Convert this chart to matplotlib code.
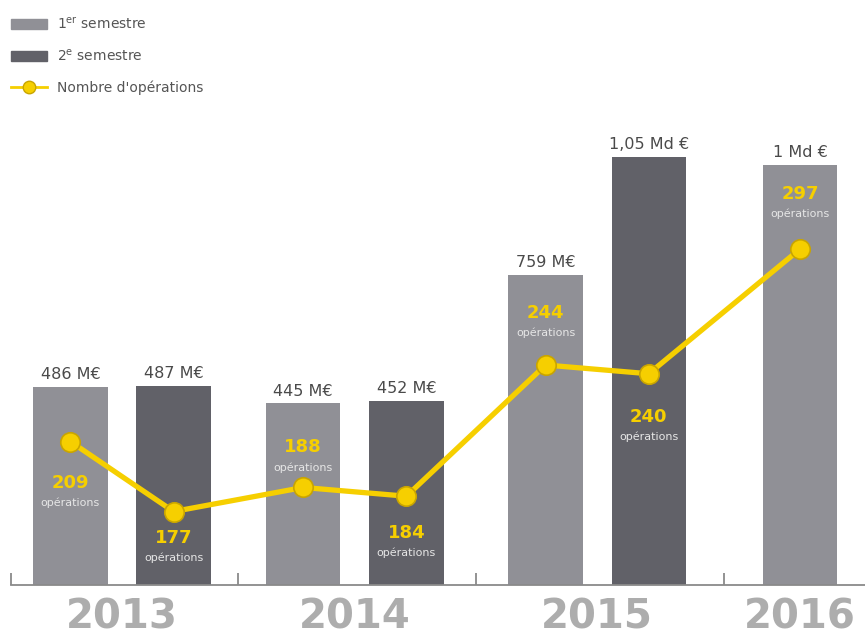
import matplotlib.pyplot as plt
from matplotlib.patches import Patch
from matplotlib.lines import Line2D

years = ['2013', '2014', '2015', '2016']
s1_values = [486, 445, 759, 1030]
s2_values = [487, 452, 1050, None]
s1_labels = ['486 M€', '445 M€', '759 M€', '1 Md €']
s2_labels = ['487 M€', '452 M€', '1,05 Md €', None]
operations = [209, 177, 188, 184, 244, 240, 297]
op_above = [False, False, True, False, True, False, True]
op_offset_px = [41, 26, 40, 37, 52, 43, 55]

# layout
group_pos = [0, 0.97, 1.98, 3.04]
offset = 0.215
width = 0.31
c_s1 = '#909096'
c_s2 = '#616168'
c_yellow = '#f6cf00'
c_text = '#4a4a4a'

fig = plt.figure(figsize=(8.65, 6.39), dpi=100)
ax = fig.add_axes([11 / 865, 54 / 639, 1 - 11 / 865, 475 / 639])
ax.set_xlim(-0.4625, 3.096)
ax.set_ylim(0, 1164)

line_x = []
for i, year in enumerate(years):
    g = group_pos[i]
    xs = []
    ax.bar(g - offset, s1_values[i], width=width, color=c_s1)
    ax.text(g - offset, s1_values[i] + 12, s1_labels[i], ha='center', va='bottom',
            fontsize=11.5, color=c_text)
    xs.append(g - offset)
    if s2_values[i] is not None:
        ax.bar(g + offset, s2_values[i], width=width, color=c_s2)
        ax.text(g + offset, s2_values[i] + 12, s2_labels[i], ha='center', va='bottom',
                fontsize=11.5, color=c_text)
        xs.append(g + offset)
    line_x.extend(xs)
    ax.text(sum(xs) / len(xs), -0.068, year, transform=ax.get_xaxis_transform(),
            ha='center', va='center', fontsize=29, fontweight='bold', color='#adadad')

for s in ['top', 'right', 'left']:
    ax.spines[s].set_visible(False)
ax.spines['bottom'].set_color('#8a8a8a')
ax.spines['bottom'].set_linewidth(1.3)
bounds = [-0.4625] + [(group_pos[i] + group_pos[i + 1]) / 2 for i in range(3)]
ax.set_xticks(bounds)
ax.set_xticklabels([])
ax.tick_params(axis='x', direction='in', length=9, width=1.3, color='#8a8a8a')
ax.set_yticks([])

ax2 = ax.twinx()
ax2.set_ylim(143.4, 360.6)
ax2.axis('off')
ax2.plot(line_x, operations, color=c_yellow, lw=3.8, marker='o', markersize=14,
         markerfacecolor=c_yellow, markeredgecolor='#c9a500', markeredgewidth=1.2, zorder=3)

for x, v, up, off in zip(line_x, operations, op_above, op_offset_px):
    sign = 1 if up else -1
    ax2.annotate(str(v), (x, v), xytext=(0, sign * off * 0.72), textcoords='offset points',
                 ha='center', va='center', fontsize=13, fontweight='bold', color=c_yellow, zorder=4)
    ax2.annotate('opérations', (x, v), xytext=(0, (sign * off - 20) * 0.72),
                 textcoords='offset points', ha='center', va='center', fontsize=8,
                 color='#e6e6e6', zorder=4)

handles = [Patch(color=c_s1), Patch(color=c_s2),
           Line2D([], [], color=c_yellow, lw=2, marker='o', markersize=9,
                  markerfacecolor=c_yellow, markeredgecolor='#c9a500')]
labels = [r'1$^{\mathrm{er}}$ semestre', r'2$^{\mathrm{e}}$ semestre', "Nombre d'opérations"]
fig.legend(handles, labels, loc='upper left', bbox_to_anchor=(0.0, 0.992), frameon=False,
           fontsize=10, handlelength=2.6, labelspacing=1.15, handletextpad=0.7,
           labelcolor='#555555', borderaxespad=0.4)

plt.savefig('out.png', dpi=100)
